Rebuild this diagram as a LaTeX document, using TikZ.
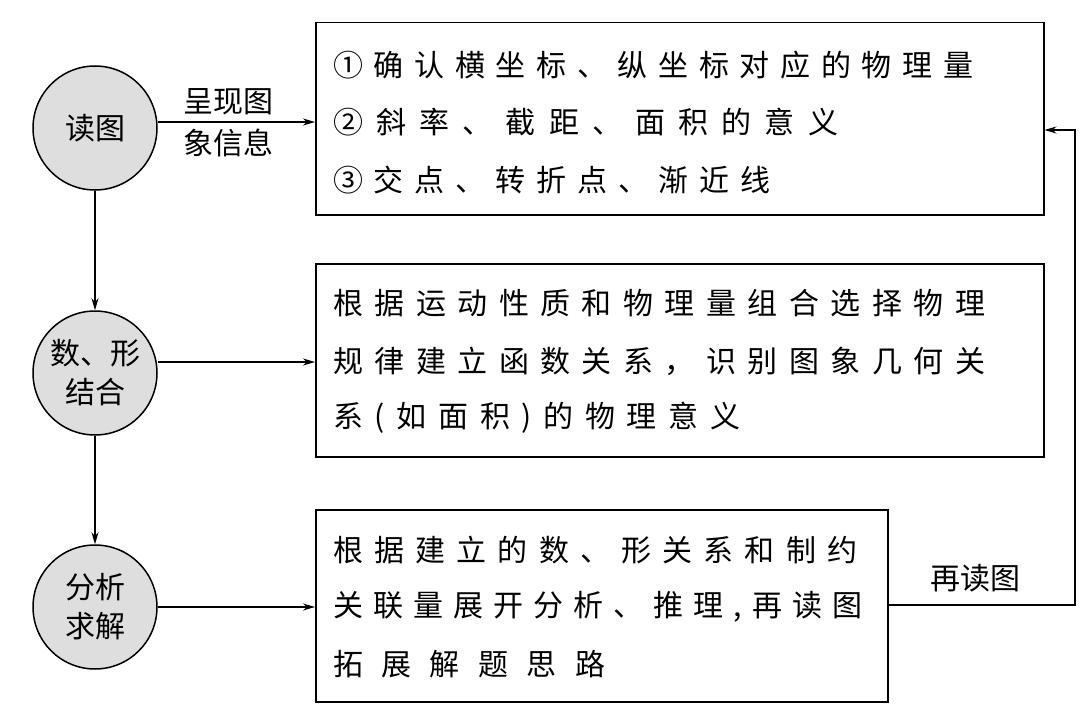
\documentclass[tikz,border=0pt]{standalone}
\usepackage{fontspec}
\usetikzlibrary{arrows.meta}
\setmainfont{Noto Sans CJK SC}
\def\spreadA#1{\ifx#1\relax\unskip\else#1\hfil\expandafter\spreadA\fi}
\newcommand\Lline[2]{\makebox[#1pt][s]{\spreadA#2\relax}}
\begin{document}
\begin{tikzpicture}[x=1pt,y=-1pt,
  circ/.style={circle,draw,line width=1.5pt,fill=black!13,minimum size=124pt,inner sep=0pt,align=center,font=\fontsize{30}{39}\selectfont},
  bx/.style={draw,line width=1.5pt,anchor=north west,inner sep=0pt},
  txt/.style={anchor=west,inner sep=0pt,font=\fontsize{30}{34}\selectfont},
  arr/.style={-{Stealth[length=12pt,width=7pt]},line width=1.3pt}]
\useasboundingbox (0,0) rectangle (1080,709);
\node[circ] (c1) at (95,128) {读图};
\node[circ] (c2) at (95,373) {数、形\\结合};
\node[circ] (c3) at (95,607) {分析\\求解};
\node[bx,minimum width=728pt,minimum height=192pt] (b1) at (315,22) {};
\node[bx,minimum width=728pt,minimum height=193pt] (b2) at (315,263) {};
\node[bx,minimum width=572pt,minimum height=192pt] (b3) at (315,509) {};
\node[txt] (t11) at (333,65) {\Lline{640}{①确认横坐标、纵坐标对应的物理量}};
\node[txt] (t12) at (333,122) {\Lline{505}{②斜率、截距、面积的意义}};
\node[txt] (t13) at (333,180) {\Lline{437}{③交点、转折点、渐近线}};
\node[txt] (t21) at (333,303) {\Lline{652}{根据运动性质和物理量组合选择物理}};
\node[txt] (t22) at (333,361) {\Lline{652}{规律建立函数关系，识别图象几何关}};
\node[txt] (t23) at (333,418) {\Lline{407}{系(如面积)的物理意义}};
\node[txt] (t31) at (333,550) {\Lline{524}{根据建立的数、形关系和制约}};
\node[txt] (t32) at (333,607) {\Lline{529}{关联量展开分析、推理,再读图}};
\node[txt] (t33) at (333,664) {\Lline{272}{拓展解题思路}};
\draw[arr] (c1.east |- 0,122) -- (b1.west |- 0,122) node[pos=0.45,above=3pt,font=\fontsize{30}{34}\selectfont] (l1) {呈现图} node[pos=0.45,below=3pt,font=\fontsize{30}{34}\selectfont] (l2) {象信息};
\draw[arr] (c1) -- (c2);
\draw[arr] (c2) -- (c3);
\draw[arr] (c2.east |- 0,362) -- (b2.west |- 0,362);
\draw[arr] (c3.east |- 0,607) -- (b3.west |- 0,607);
\coordinate (r1) at (1075,605);
\coordinate (r2) at (1075,130);
\draw[arr] (b3.east |- 0,605) -- (r1) -- (r2) -- (b1.east |- 0,130);
\node[font=\fontsize{30}{34}\selectfont] (l3) at (975,578) {再读图};
\end{tikzpicture}
\end{document}
